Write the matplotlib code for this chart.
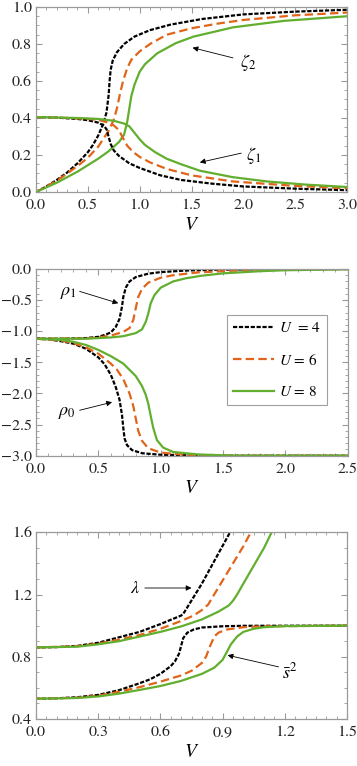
import matplotlib
matplotlib.use("Agg")
import matplotlib.pyplot as plt
from matplotlib.ticker import MultipleLocator

plt.rcParams['font.family'] = ['STIXGeneral', 'DejaVu Serif']
plt.rcParams['mathtext.fontset'] = 'stix'

# ---------------- data ----------------
labels = [r'$U$  = 4', r'$U$ = 6', r'$U$ = 8']

# panel 1: zeta2 and zeta1
z2_U4_V = [0, 0.1, 0.2, 0.3, 0.4, 0.5, 0.55, 0.6, 0.65, 0.68, 0.70, 0.71, 0.72, 0.74, 0.78, 0.85, 0.95, 1.1, 1.3, 1.6, 2.0, 2.5, 3.0]
z2_U4 = [0, 0.03, 0.065, 0.105, 0.155, 0.215, 0.255, 0.305, 0.37, 0.43, 0.52, 0.6, 0.66, 0.71, 0.755, 0.8, 0.84, 0.875, 0.905, 0.935, 0.96, 0.975, 0.985]
z1_U4_V = [0, 0.2, 0.4, 0.5, 0.6, 0.65, 0.68, 0.70, 0.72, 0.75, 0.8, 0.9, 1.0, 1.2, 1.4, 1.7, 2.0, 2.5, 3.0]
z1_U4 = [0.405, 0.402, 0.395, 0.388, 0.375, 0.36, 0.34, 0.3, 0.26, 0.225, 0.195, 0.155, 0.13, 0.09, 0.065, 0.045, 0.03, 0.018, 0.01]

z2_U6_V = [0, 0.2, 0.4, 0.5, 0.6, 0.7, 0.75, 0.78, 0.81, 0.84, 0.88, 0.92, 1.0, 1.1, 1.26, 1.5, 1.75, 2.0, 2.5, 3.0]
z2_U6 = [0, 0.06, 0.14, 0.185, 0.245, 0.33, 0.39, 0.45, 0.53, 0.6, 0.67, 0.715, 0.76, 0.8, 0.85, 0.885, 0.91, 0.93, 0.955, 0.97]
z1_U6_V = [0, 0.3, 0.5, 0.6, 0.7, 0.75, 0.8, 0.84, 0.88, 0.94, 1.0, 1.1, 1.26, 1.5, 1.9, 2.5, 3.0]
z1_U6 = [0.405, 0.4, 0.395, 0.39, 0.375, 0.36, 0.335, 0.29, 0.25, 0.215, 0.19, 0.16, 0.125, 0.09, 0.057, 0.033, 0.02]

z2_U8_V = [0, 0.2, 0.4, 0.5, 0.6, 0.7, 0.8, 0.85, 0.88, 0.9, 0.92, 0.95, 1.0, 1.05, 1.1, 1.17, 1.35, 1.52, 1.9, 2.39, 3.0]
z2_U8 = [0, 0.05, 0.11, 0.145, 0.18, 0.22, 0.27, 0.31, 0.38, 0.45, 0.52, 0.58, 0.65, 0.69, 0.715, 0.75, 0.805, 0.84, 0.89, 0.925, 0.95]
z1_U8_V = [0, 0.4, 0.6, 0.75, 0.85, 0.9, 0.95, 1.0, 1.05, 1.15, 1.26, 1.4, 1.58, 1.9, 2.23, 2.6, 3.0]
z1_U8 = [0.405, 0.4, 0.395, 0.385, 0.37, 0.355, 0.32, 0.285, 0.255, 0.215, 0.18, 0.15, 0.115, 0.08, 0.057, 0.04, 0.027]

# panel 2: rho1 and rho0
r1_U4_V = [0, 0.2, 0.4, 0.5, 0.55, 0.6, 0.64, 0.67, 0.69, 0.7, 0.72, 0.75, 0.8, 0.9, 1.0, 1.2, 1.5, 2.0, 2.5]
r1_U4 = [-1.12, -1.12, -1.11, -1.09, -1.06, -1.02, -0.93, -0.8, -0.6, -0.45, -0.3, -0.2, -0.13, -0.075, -0.05, -0.025, -0.01, -0.003, 0]
r0_U4_V = [0, 0.1, 0.2, 0.3, 0.4, 0.5, 0.55, 0.6, 0.64, 0.67, 0.69, 0.7, 0.71, 0.73, 0.77, 0.85, 1.0, 1.5, 2.5]
r0_U4 = [-1.12, -1.13, -1.16, -1.2, -1.28, -1.42, -1.53, -1.7, -1.9, -2.1, -2.35, -2.55, -2.72, -2.83, -2.91, -2.96, -2.985, -3.0, -3.0]

r1_U6_V = [0, 0.4, 0.5, 0.6, 0.7, 0.75, 0.78, 0.8, 0.82, 0.85, 0.9, 1.0, 1.1, 1.3, 1.6, 2.0, 2.5]
r1_U6 = [-1.12, -1.115, -1.1, -1.07, -1.01, -0.95, -0.82, -0.63, -0.45, -0.32, -0.22, -0.14, -0.1, -0.055, -0.025, -0.01, 0]
r0_U6_V = [0, 0.2, 0.3, 0.4, 0.5, 0.6, 0.65, 0.7, 0.75, 0.78, 0.8, 0.82, 0.85, 0.9, 1.0, 1.2, 1.6, 2.5]
r0_U6 = [-1.12, -1.15, -1.19, -1.26, -1.36, -1.52, -1.62, -1.77, -2.0, -2.2, -2.4, -2.6, -2.76, -2.88, -2.95, -2.985, -3.0, -3.0]

r1_U8_V = [0, 0.4, 0.6, 0.7, 0.8, 0.85, 0.88, 0.9, 0.92, 0.95, 1.0, 1.1, 1.2, 1.32, 1.5, 1.8, 2.0, 2.5]
r1_U8 = [-1.12, -1.12, -1.1, -1.08, -1.03, -0.97, -0.85, -0.72, -0.55, -0.42, -0.3, -0.2, -0.15, -0.11, -0.07, -0.035, -0.02, -0.005]
r0_U8_V = [0, 0.2, 0.3, 0.4, 0.5, 0.6, 0.7, 0.8, 0.85, 0.88, 0.9, 0.92, 0.94, 0.97, 1.02, 1.1, 1.3, 1.6, 2.5]
r0_U8 = [-1.12, -1.14, -1.17, -1.22, -1.3, -1.4, -1.52, -1.72, -1.88, -2.02, -2.16, -2.36, -2.55, -2.75, -2.87, -2.94, -2.98, -3.0, -3.0]

# panel 3: lambda and s^2
lam_U4_V = [0, 0.1, 0.2, 0.3, 0.4, 0.5, 0.6, 0.7, 0.71, 0.8, 0.94]
lam_U4 = [0.86, 0.862, 0.87, 0.89, 0.925, 0.96, 1.01, 1.065, 1.075, 1.27, 1.61]
lam_U6_V = [0, 0.2, 0.3, 0.4, 0.5, 0.6, 0.7, 0.76, 0.8, 0.83, 0.9, 1.0, 1.04]
lam_U6 = [0.86, 0.868, 0.885, 0.91, 0.94, 0.98, 1.03, 1.065, 1.1, 1.135, 1.29, 1.51, 1.61]
lam_U8_V = [0, 0.2, 0.3, 0.4, 0.5, 0.6, 0.7, 0.8, 0.88, 0.93, 0.95, 0.97, 1.0, 1.1, 1.14]
lam_U8 = [0.86, 0.865, 0.88, 0.9, 0.93, 0.96, 0.995, 1.04, 1.09, 1.13, 1.16, 1.2, 1.27, 1.5, 1.61]

s2_U4_V = [0, 0.1, 0.2, 0.3, 0.4, 0.5, 0.55, 0.6, 0.65, 0.67, 0.69, 0.7, 0.71, 0.73, 0.76, 0.8, 0.9, 1.0, 1.5]
s2_U4 = [0.53, 0.533, 0.54, 0.555, 0.585, 0.63, 0.655, 0.69, 0.74, 0.77, 0.82, 0.87, 0.92, 0.955, 0.975, 0.988, 0.996, 0.999, 1.0]
s2_U6_V = [0, 0.2, 0.3, 0.4, 0.5, 0.6, 0.7, 0.75, 0.8, 0.82, 0.84, 0.86, 0.88, 0.92, 1.0, 1.1, 1.5]
s2_U6 = [0.53, 0.537, 0.55, 0.575, 0.605, 0.64, 0.68, 0.71, 0.76, 0.8, 0.87, 0.93, 0.955, 0.975, 0.99, 0.996, 1.0]
s2_U8_V = [0, 0.2, 0.3, 0.4, 0.5, 0.6, 0.7, 0.8, 0.86, 0.9, 0.92, 0.94, 0.97, 1.0, 1.05, 1.1, 1.2, 1.5]
s2_U8 = [0.53, 0.535, 0.545, 0.563, 0.587, 0.612, 0.645, 0.69, 0.73, 0.78, 0.83, 0.88, 0.93, 0.96, 0.98, 0.99, 0.997, 1.0]

# ---------------- styles ----------------
C_BLACK = '#000000'
C_ORANGE = '#E0641A'
C_GREEN = '#62AE2E'
LW = 1.6
STY = [dict(color=C_BLACK, lw=LW, ls=(0, (1.9, 0.75))),
       dict(color=C_ORANGE, lw=LW, ls=(0, (3.8, 1.9))),
       dict(color=C_GREEN, lw=LW, ls='-')]
FRAME = '#9a9a9a'

fig = plt.figure(figsize=(3.57, 7.66), dpi=100)
W, H = 357.0, 766.0


def make_axes(l, r, t, b):
    return fig.add_axes([l / W, 1 - b / H, (r - l) / W, (b - t) / H])


def style_axes(ax, xmaj, xmin, ymaj, ymin):
    ax.xaxis.set_major_locator(MultipleLocator(xmaj))
    ax.xaxis.set_minor_locator(MultipleLocator(xmin))
    ax.yaxis.set_major_locator(MultipleLocator(ymaj))
    ax.yaxis.set_minor_locator(MultipleLocator(ymin))
    for s in ax.spines.values():
        s.set_color(FRAME)
        s.set_linewidth(0.9)
    ax.tick_params(which='both', direction='in', top=True, right=True,
                   color=FRAME, labelsize=11.5, labelcolor='#222222')
    ax.tick_params(axis='x', which='both', pad=5)
    ax.tick_params(axis='y', which='both', pad=3)
    ax.tick_params(which='major', length=4, width=0.8)
    ax.tick_params(which='minor', length=2, width=0.6)
    ax.set_xlabel(r'$V$', fontsize=14, labelpad=3)


arrow = dict(arrowstyle='-|>', color='black', lw=0.6,
             mutation_scale=8, shrinkA=0, shrinkB=0)

# ---- panel 1 ----
ax1 = make_axes(36, 347, 7, 192)
for (vx, vy), st in zip([(z2_U4_V, z2_U4), (z2_U6_V, z2_U6), (z2_U8_V, z2_U8)], STY):
    ax1.plot(vx, vy, **st)
for (vx, vy), st in zip([(z1_U4_V, z1_U4), (z1_U6_V, z1_U6), (z1_U8_V, z1_U8)], STY):
    ax1.plot(vx, vy, **st)
ax1.set_xlim(0, 3.0)
ax1.set_ylim(0, 1.0)
style_axes(ax1, 0.5, 0.1, 0.2, 0.05)
ax1.xaxis.set_major_formatter(lambda v, p: f'{v:.1f}')
ax1.yaxis.set_major_formatter(lambda v, p: f'{v:.1f}')
ax1.annotate('', xy=(1.51, 0.78), xytext=(1.90, 0.725), arrowprops=arrow)
ax1.text(1.97, 0.70, r'$\zeta_2$', fontsize=13, va='center', ha='left')
ax1.annotate('', xy=(1.58, 0.16), xytext=(1.98, 0.21), arrowprops=arrow)
ax1.text(2.03, 0.195, r'$\zeta_1$', fontsize=13, va='center', ha='left')

# ---- panel 2 ----
ax2 = make_axes(36, 347.7, 269, 455.7)
handles = []
for (vx, vy), st, lab in zip([(r1_U4_V, r1_U4), (r1_U6_V, r1_U6), (r1_U8_V, r1_U8)], STY, labels):
    h, = ax2.plot(vx, vy, label=lab, **st)
    handles.append(h)
for (vx, vy), st in zip([(r0_U4_V, r0_U4), (r0_U6_V, r0_U6), (r0_U8_V, r0_U8)], STY):
    ax2.plot(vx, vy, **st)
ax2.set_xlim(0, 2.5)
ax2.set_ylim(-3.0, 0.0)
style_axes(ax2, 0.5, 0.1, 0.5, 0.1)
ax2.xaxis.set_major_formatter(lambda v, p: f'{v:.1f}')
ax2.yaxis.set_major_formatter(lambda v, p: f'{v:.1f}'.replace('-', '\u2212'))
ax2.annotate('', xy=(0.66, -0.55), xytext=(0.35, -0.36), arrowprops=arrow)
ax2.text(0.33, -0.38, r'$\rho_1$', fontsize=13, va='center', ha='right')
ax2.annotate('', xy=(0.61, -2.14), xytext=(0.35, -2.27), arrowprops=arrow)
ax2.text(0.32, -2.32, r'$\rho_0$', fontsize=13, va='center', ha='right')
leg = ax2.legend(handles=handles, loc='center', bbox_to_anchor=(0.772, 0.512),
                 fontsize=11, frameon=True, fancybox=False, shadow=False,
                 handlelength=2.7, handletextpad=0.3, labelspacing=1.15,
                 borderpad=0.4, borderaxespad=0)
leg.get_frame().set_edgecolor('#888888')
leg.get_frame().set_linewidth(0.8)
leg.get_frame().set_facecolor('white')

# ---- panel 3 ----
ax3 = make_axes(36, 347, 532.3, 719)
for (vx, vy), st in zip([(lam_U4_V, lam_U4), (lam_U6_V, lam_U6), (lam_U8_V, lam_U8)], STY):
    ax3.plot(vx, vy, **st)
for (vx, vy), st in zip([(s2_U4_V, s2_U4), (s2_U6_V, s2_U6), (s2_U8_V, s2_U8)], STY):
    ax3.plot(vx, vy, **st)
ax3.set_xlim(0, 1.5)
ax3.set_ylim(0.4, 1.6)
style_axes(ax3, 0.3, 0.05, 0.4, 0.1)
ax3.xaxis.set_major_formatter(lambda v, p: f'{v:.1f}')
ax3.yaxis.set_major_formatter(lambda v, p: f'{v:.1f}')
ax3.annotate('', xy=(0.75, 1.242), xytext=(0.525, 1.242), arrowprops=arrow)
ax3.text(0.50, 1.235, r'$\lambda$', fontsize=13, va='center', ha='right')
ax3.annotate('', xy=(0.924, 0.81), xytext=(1.17, 0.735), arrowprops=arrow)
ax3.text(1.185, 0.70, r'$\bar{s}^2$', fontsize=13, va='center', ha='left')

fig.savefig('out.png', dpi=100)
